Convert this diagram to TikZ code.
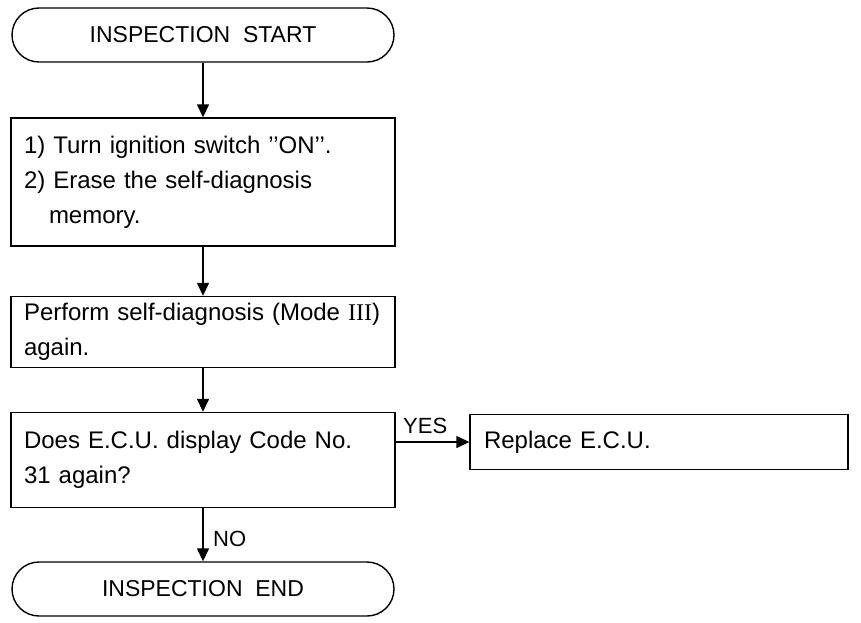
\documentclass[tikz,border=0pt]{standalone}
\usepackage{fontspec}
\setmainfont{Liberation Sans}
\newfontfamily\romnum{Liberation Serif}
\usetikzlibrary{arrows.meta}
\begin{document}
\begin{tikzpicture}[x=1pt,y=-1pt,
  every node/.style={font=\fontsize{24}{35}\selectfont},
  box/.style={draw,line width=1.4pt,minimum width=384pt,align=left,
    text width=358pt,inner xsep=13pt,inner ysep=0pt},
  term/.style={draw,line width=1.4pt,minimum width=382pt,minimum height=54pt,
    rounded corners=27pt,inner sep=0pt,font=\fontsize{23}{28}\selectfont},
  flow/.style={line width=1.4pt,-{Triangle[length=13pt,width=12pt]}},
  lbl/.style={inner sep=0pt,font=\fontsize{22}{26}\selectfont}]
\useasboundingbox (0,0) rectangle (861,622);
\node[term] (start) at (203,35) {INSPECTION\ \ START};
\node[box,minimum height=128pt] (b1) at (203,182)
  {1)\ Turn ignition switch '{}'ON'{}'.\\
   2)\ Erase the self-diagnosis\\\hspace*{25pt}memory.};
\node[box,minimum height=71pt] (b2) at (203,332)
  {Perform self-diagnosis (Mode {\romnum III})\\again.};
\node[box,minimum height=95pt] (b3) at (203,460)
  {Does E.C.U. display Code No.\\31 again?};
\node[draw,line width=1.4pt,minimum width=378pt,minimum height=55pt,
  text width=350pt,inner xsep=14pt,align=left] (rep) at (659,442) {Replace E.C.U.};
\node[term] (end) at (203,589) {INSPECTION\ \ END};
\draw[flow] (start.south) -- (b1.north);
\draw[flow] (b1.south) -- (b2.north);
\draw[flow] (b2.south) -- (b3.north);
\draw[flow] (b3.east |- rep.west) -- (rep.west);
\draw[flow] (b3.south) -- (end.north);
\node[lbl,anchor=base west] (yes) at (403,433) {YES};
\node[lbl,anchor=base west] (no) at (213,546) {NO};
\end{tikzpicture}
\end{document}
